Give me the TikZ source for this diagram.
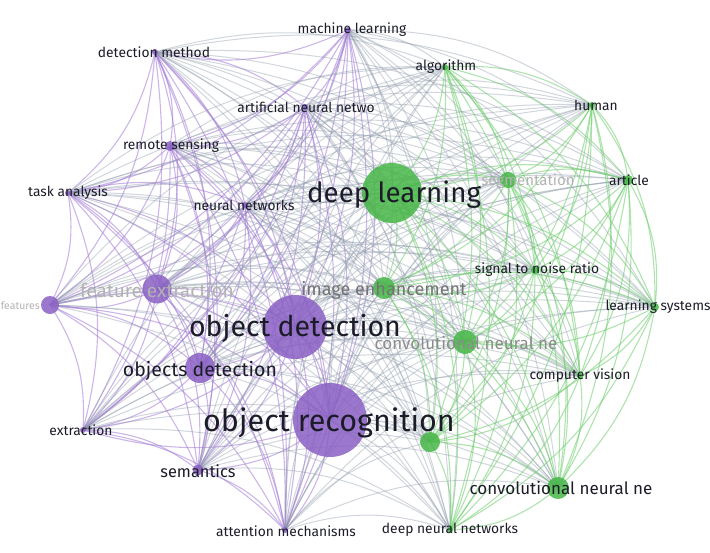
\documentclass[tikz,border=0pt]{standalone}
\usepackage{fontspec}
\setmainfont{Fira Sans}
\usetikzlibrary{backgrounds}

\definecolor{vpurple}{RGB}{138,96,196}
\definecolor{vgreen}{RGB}{70,182,70}
\definecolor{vedgeP}{RGB}{160,122,212}
\definecolor{vedgeG}{RGB}{108,204,108}
\definecolor{vedgeX}{RGB}{140,152,168}
\definecolor{vtext}{RGB}{28,28,40}
\definecolor{vfaint}{RGB}{178,178,178}

\begin{document}
\begin{tikzpicture}[x=1pt, y=-1pt,
    kwP/.style={circle, fill=vpurple, fill opacity=.85, inner sep=0pt, minimum size=#1},
    kwG/.style={circle, fill=vgreen, fill opacity=.85, inner sep=0pt, minimum size=#1},
    lbl/.style={text=vtext, inner sep=0pt, font=\fontsize{#1}{#1}\selectfont},
    faint/.style={lbl=#1, text=vfaint},
    edgePP/.style={vedgeP, line width=1.1pt, draw opacity=.55},
    edgeGG/.style={vedgeG, line width=1.1pt, draw opacity=.55},
    edgePG/.style={vedgeX, line width=1pt, draw opacity=.4},
    edgeGP/.style={edgePG}
  ]
  \useasboundingbox (0,0) rectangle (710,552);

  % purple cluster
  \node[kwP=6pt]  (ml)   at (348,30)  {};
  \node[kwP=6pt]  (dm)   at (155,52)  {};
  \node[kwP=6pt]  (ann)  at (305,107) {};
  \node[kwP=10pt] (rs)   at (170,146) {};
  \node[kwP=6pt]  (ta)   at (68,193)  {};
  \node[kwP=6pt]  (nn)   at (245,205) {};
  \node[kwP=29pt] (fe)   at (157,289) {};
  \node[kwP=18pt] (fs)   at (50,305)  {};
  \node[kwP=64pt] (od)   at (295,327) {};
  \node[kwP=30pt] (ods)  at (200,368) {};
  \node[kwP=74pt] (orc)  at (330,420) {};
  \node[kwP=6pt]  (ex)   at (83,430)  {};
  \node[kwP=11pt] (se)   at (198,470) {};
  \node[kwP=6pt]  (am)   at (285,530) {};

  % green cluster
  \node[kwG=6pt]  (alg)  at (445,67)  {};
  \node[kwG=6pt]  (hu)   at (592,105) {};
  \node[kwG=60pt] (dl)   at (392,193) {};
  \node[kwG=16pt] (sg)   at (508,180) {};
  \node[kwG=10pt] (ar)   at (628,180) {};
  \node[kwG=8pt]  (snr)  at (535,270) {};
  \node[kwG=22pt] (ie)   at (384,288) {};
  \node[kwG=8pt]  (ls)   at (655,307) {};
  \node[kwG=24pt] (cnnA) at (465,342) {};
  \node[kwG=6pt]  (cv)   at (580,376) {};
  \node[kwG=20pt] (gx)   at (430,442) {};
  \node[kwG=22pt] (cnnB) at (558,488) {};
  \node[kwG=6pt]  (dnn)  at (450,530) {};

  % links
  \begin{scope}[on background layer]
    \foreach \a/\ca [count=\i] in {ml/P,dm/P,ann/P,rs/P,ta/P,nn/P,fe/P,fs/P,od/P,ods/P,orc/P,ex/P,se/P,am/P,alg/G,hu/G,dl/G,sg/G,ar/G,snr/G,ie/G,ls/G,cnnA/G,cv/G,gx/G,cnnB/G,dnn/G}
      \foreach \b/\cb [count=\j] in {ml/P,dm/P,ann/P,rs/P,ta/P,nn/P,fe/P,fs/P,od/P,ods/P,orc/P,ex/P,se/P,am/P,alg/G,hu/G,dl/G,sg/G,ar/G,snr/G,ie/G,ls/G,cnnA/G,cv/G,gx/G,cnnB/G,dnn/G}
        {\ifnum\j>\i \draw[edge\ca\cb] (\a.center) to[bend left=18] (\b.center);\fi}
  \end{scope}

  % faded labels
  \node[faint=19] (t-fe)   at (157,290) {feature extraction};
  \node[faint=10.5, anchor=east] (t-fs) at (40,306) {features};
  \node[faint=15] (t-sg)   at (528,181) {segmentation};
  \node[faint=18, text=black!55] (t-ie) at (384,290) {image enhancement};
  \node[faint=17, text=black!45] (t-cnnA) at (466,343) {convolutional neural ne};

  % labels
  \node[lbl=13.8] (t-ml)   at (352,30)  {machine learning};
  \node[lbl=13.8] (t-dm)   at (154,52)  {detection method};
  \node[lbl=13.8] (t-ann)  at (306,107) {artificial neural netwo};
  \node[lbl=13.8] (t-rs)   at (171,146) {remote sensing};
  \node[lbl=13.8] (t-ta)   at (68,193)  {task analysis};
  \node[lbl=13.8] (t-nn)   at (244,205) {neural networks};
  \node[lbl=27.7] (t-dl)   at (394,195) {deep learning};
  \node[lbl=13.8] (t-alg)  at (446,67)  {algorithm};
  \node[lbl=13.8] (t-hu)   at (596,105) {human};
  \node[lbl=13.8] (t-ar)   at (629,180) {article};
  \node[lbl=13.8] (t-snr)  at (537,270) {signal to noise ratio};
  \node[lbl=13.8] (t-ls)   at (658,307) {learning systems};
  \node[lbl=28.5] (t-od)   at (295,328) {object detection};
  \node[lbl=19.5] (t-ods)  at (200,371) {objects detection};
  \node[lbl=13.8] (t-cv)   at (580,376) {computer vision};
  \node[lbl=30.5] (t-orc)  at (329,423) {object recognition};
  \node[lbl=13.8] (t-ex)   at (81,430)  {extraction};
  \node[lbl=16.4] (t-se)   at (198,471) {semantics};
  \node[lbl=17]   (t-cnnB) at (561,488) {convolutional neural ne};
  \node[lbl=13.8] (t-am)   at (286,531) {attention mechanisms};
  \node[lbl=13.8] (t-dnn)  at (450,530) {deep neural networks};
\end{tikzpicture}
\end{document}
